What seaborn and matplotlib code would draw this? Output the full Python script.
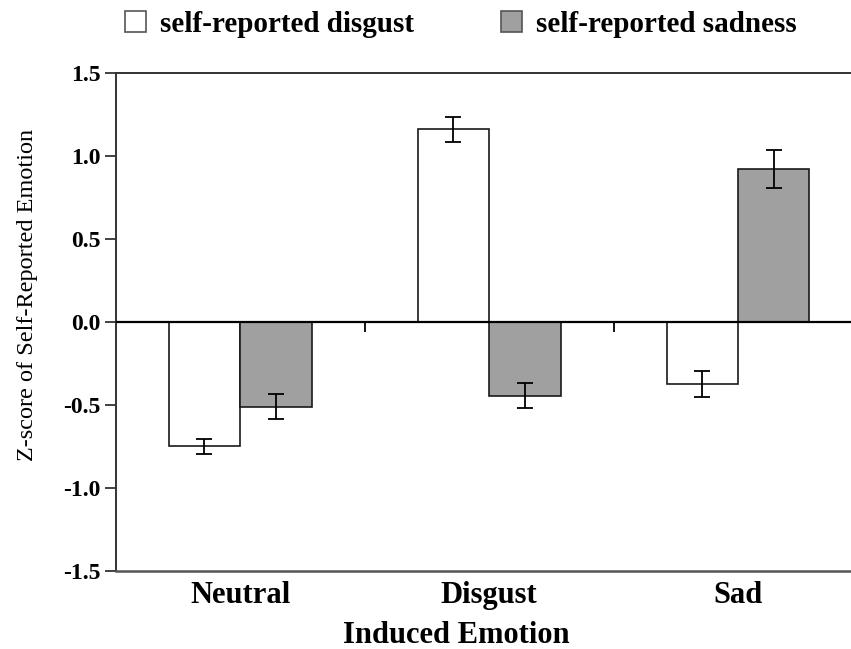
import numpy as np
import pandas as pd
import matplotlib
matplotlib.use("Agg")
import matplotlib.pyplot as plt
import seaborn as sns

# values
induced = ["Neutral", "Disgust", "Sad"]
measures = ["self-reported disgust", "self-reported sadness"]
disgust_mean = [-0.75, 1.16, -0.375]
disgust_se = [0.048, 0.077, 0.077]
sadness_mean = [-0.51, -0.445, 0.924]
sadness_se = [0.075, 0.076, 0.114]
yticks = [-1.5, -1.0, -0.5, 0.0, 0.5, 1.0, 1.5]
ytick_labels = ["-1.5", "-1.0", "-0.5", "0.0", "0.5", "1.0", "1.5"]

df = pd.DataFrame({
    "Induced Emotion": induced * 2,
    "measure": [measures[0]] * 3 + [measures[1]] * 3,
    "z": disgust_mean + sadness_mean,
    "se": disgust_se + sadness_se,
})

sns.set_theme(style="white")
plt.rcParams["font.family"] = ["Liberation Serif", "DejaVu Serif"]
plt.rcParams["axes.unicode_minus"] = False
plt.rcParams["text.color"] = "black"
plt.rcParams["axes.labelcolor"] = "black"
plt.rcParams["xtick.color"] = "black"
plt.rcParams["ytick.color"] = "black"

fig = plt.figure(figsize=(8.51, 6.49), dpi=100)
ax = fig.add_axes([0.136, 0.1202, 0.8775, 0.7673])

edge = "#1a1a1a"
sns.barplot(data=df, x="Induced Emotion", y="z", hue="measure", order=induced,
            hue_order=measures, palette=["white", "#a0a0a0"], width=0.574,
            edgecolor=edge, linewidth=1.2, errorbar=None, ax=ax)

# error bars from the bars themselves
for cont, m in zip(ax.containers, measures):
    sub = df[df["measure"] == m].set_index("Induced Emotion").loc[induced]
    xs = [p.get_x() + p.get_width() / 2 for p in cont]
    ax.errorbar(xs, sub["z"].values, yerr=sub["se"].values, fmt="none",
                ecolor="black", elinewidth=1.3, capsize=6, capthick=1.3, zorder=5)

ax.axhline(0, color="black", lw=1.6, zorder=4)
# small ticks between categories on the zero line
ax.plot([0.5, 1.5], [0, 0], ls="none", marker=3, ms=7, mew=1.3, color="black", zorder=4)

ax.set_xlim(-0.5, 2.5)
ax.set_ylim(-1.5, 1.5)
ax.set_yticks(yticks)
ax.set_yticklabels(ytick_labels, fontsize=17, fontweight="bold")
ax.set_xticks(range(len(induced)))
ax.set_xticklabels(induced, fontsize=22, fontweight="bold")
ax.tick_params(axis="x", length=0, pad=7)
ax.tick_params(axis="y", left=True, length=8, width=1.3, color="#333333", pad=3)

for s in ["left", "top", "bottom"]:
    ax.spines[s].set_visible(True)
    ax.spines[s].set_color("#333333")
    ax.spines[s].set_linewidth(1.4)
ax.spines["right"].set_visible(False)
ax.spines["bottom"].set_color("#555555")
ax.spines["bottom"].set_linewidth(1.8)

ax.set_xlabel("Induced Emotion", fontsize=22, fontweight="semibold")
ax.set_ylabel("Z-score of Self-Reported Emotion", fontsize=17.5)
ax.xaxis.set_label_coords(0.456, -0.1)
ax.yaxis.set_label_coords(-0.104, 0.554)

sns.move_legend(ax, "center", bbox_to_anchor=(0.5417, 0.963),
                bbox_transform=fig.transFigure, ncol=2, frameon=False, title=None,
                handlelength=0.7, handleheight=0.7,
                handletextpad=0.48, columnspacing=3.0,
                prop={"weight": "bold", "size": 21})
for h in ax.get_legend().legend_handles:
    h.set_edgecolor("#555555")
    h.set_linewidth(1.2)

fig.savefig("out.png", dpi=100)
